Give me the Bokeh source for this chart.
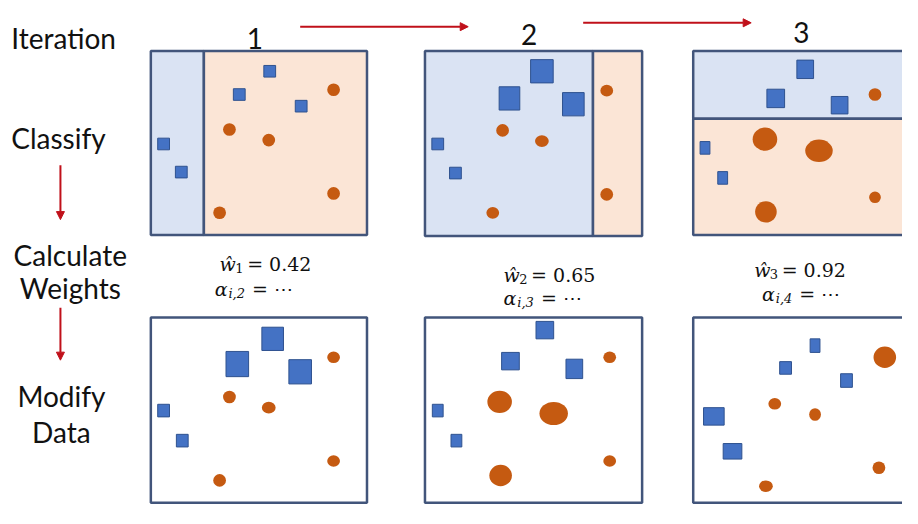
from bokeh.plotting import figure
from bokeh.models import Range1d, Arrow, NormalHead, Label
from bokeh.embed import file_html
from bokeh.resources import INLINE

# ---------------- data ----------------
iterations = ["1", "2", "3"]
row_labels = ["Iteration", "Classify", "Calculate", "Weights", "Modify", "Data"]
weights = ["0.42", "0.65", "0.92"]
w_sub = ["1", "2", "3"]
alpha_sub = ["i,2", "i,3", "i,4"]

# panel frames (pixel space of the diagram)
panel_left = [153, 432, 705]
panel_right = [373, 653, 925]
bottom_row_top = [327, 327, 327]
bottom_row_bottom = [518, 518, 518]

# classifier regions (left, right, top, bottom)
blue_left = [153, 432, 705]
blue_right = [207, 603, 925]
blue_top = [52, 52, 52]
blue_bottom = [242, 243, 122]
orange_left = [207, 603, 705]
orange_right = [373, 653, 925]
orange_top = [52, 52, 122]
orange_bottom = [242, 243, 242]

# Classify row points
c1_sq_x = [274, 243, 306, 166, 184]
c1_sq_y = [73, 97, 109, 148, 177]
c1_sq_w = [12, 12, 12, 12, 12]
c1_sq_h = [12, 12, 12, 12, 12]
c1_ci_x = [339, 233, 273, 339, 223]
c1_ci_y = [92, 133, 144, 199, 219]
c1_ci_w = [13, 13, 13, 13, 13]
c1_ci_h = [13, 13, 13, 13, 13]

c2_sq_x = [551, 518, 583, 445, 463]
c2_sq_y = [73, 101, 107, 148, 178]
c2_sq_w = [23, 21, 22, 12, 12]
c2_sq_h = [24, 24, 24, 12, 12]
c2_ci_x = [617, 511, 551, 617, 501]
c2_ci_y = [93, 134, 145, 200, 219]
c2_ci_w = [13, 13, 14, 13, 13]
c2_ci_h = [12, 13, 12, 13, 12]

c3_sq_x = [819, 789, 854, 717, 735]
c3_sq_y = [71, 101, 108, 152, 183]
c3_sq_w = [17, 18, 17, 10, 10]
c3_sq_h = [19, 19, 18, 13, 13]
c3_ci_x = [890, 778, 833, 890, 779]
c3_ci_y = [97, 143, 155, 203, 218]
c3_ci_w = [13, 25, 28, 12, 22]
c3_ci_h = [13, 24, 23, 12, 22]

# Modify Data row points
m1_sq_x = [277, 241, 305, 166, 185]
m1_sq_y = [349, 375, 383, 423, 454]
m1_sq_w = [22, 23, 23, 12, 12]
m1_sq_h = [24, 26, 25, 13, 13]
m1_ci_x = [339, 233, 273, 339, 223]
m1_ci_y = [368, 409, 420, 475, 495]
m1_ci_w = [13, 13, 14, 13, 13]
m1_ci_h = [12, 13, 12, 12, 13]

m2_sq_x = [554, 519, 584, 445, 464]
m2_sq_y = [340, 372, 380, 423, 454]
m2_sq_w = [18, 18, 17, 11, 11]
m2_sq_h = [18, 18, 20, 13, 13]
m2_ci_x = [620, 508, 563, 620, 509]
m2_ci_y = [368, 414, 426, 475, 490]
m2_ci_w = [13, 25, 29, 13, 23]
m2_ci_h = [12, 23, 24, 12, 22]

m3_sq_x = [829, 799, 861, 726, 745]
m3_sq_y = [356, 379, 392, 429, 465]
m3_sq_w = [10, 12, 12, 21, 19]
m3_sq_h = [14, 13, 14, 18, 16]
m3_ci_x = [900, 788, 829, 894, 779]
m3_ci_y = [368, 416, 427, 482, 501]
m3_ci_w = [23, 13, 12, 13, 14]
m3_ci_h = [22, 12, 13, 13, 12]

# ---------------- styles ----------------
FRAME = "#42557B"
BLUE_BG = "#DAE3F3"
ORANGE_BG = "#FBE5D6"
SQ_FILL = "#4472C4"
SQ_LINE = "#2F528F"
CI_FILL = "#C55A11"
RED = "#C0101A"
SANS = "Lato"
SERIF = "DejaVu Serif"

p = figure(width=902, height=508, x_range=Range1d(0, 918), y_range=Range1d(524, 0),
           output_backend="svg", toolbar_location=None, min_border=0,
           x_axis_location=None, y_axis_location=None)
p.grid.visible = False
p.outline_line_color = None
p.background_fill_color = "white"
p.border_fill_color = "white"

# classify backgrounds
p.quad(left=blue_left, right=blue_right, top=blue_top, bottom=blue_bottom,
       fill_color=BLUE_BG, line_color=FRAME, line_width=2.5)
p.quad(left=orange_left, right=orange_right, top=orange_top, bottom=orange_bottom,
       fill_color=ORANGE_BG, line_color=FRAME, line_width=2.5)
# modify frames
p.quad(left=panel_left, right=panel_right, top=bottom_row_top, bottom=bottom_row_bottom,
       fill_color="white", line_color=FRAME, line_width=2.5)

sets = [
    (c1_sq_x, c1_sq_y, c1_sq_w, c1_sq_h, c1_ci_x, c1_ci_y, c1_ci_w, c1_ci_h),
    (c2_sq_x, c2_sq_y, c2_sq_w, c2_sq_h, c2_ci_x, c2_ci_y, c2_ci_w, c2_ci_h),
    (c3_sq_x, c3_sq_y, c3_sq_w, c3_sq_h, c3_ci_x, c3_ci_y, c3_ci_w, c3_ci_h),
    (m1_sq_x, m1_sq_y, m1_sq_w, m1_sq_h, m1_ci_x, m1_ci_y, m1_ci_w, m1_ci_h),
    (m2_sq_x, m2_sq_y, m2_sq_w, m2_sq_h, m2_ci_x, m2_ci_y, m2_ci_w, m2_ci_h),
    (m3_sq_x, m3_sq_y, m3_sq_w, m3_sq_h, m3_ci_x, m3_ci_y, m3_ci_w, m3_ci_h),
]
for sx, sy, sw, sh, cx, cy, cw, ch in sets:
    p.rect(x=sx, y=sy, width=sw, height=sh, fill_color=SQ_FILL, line_color=SQ_LINE, line_width=1)
    p.ellipse(x=cx, y=cy, width=cw, height=ch, fill_color=CI_FILL, line_color=None)

# ---------------- texts ----------------
def lab(x, y, t, font=SANS, size="28px", style="normal", align="left", color="#111111"):
    p.add_layout(Label(x=x, y=y, text=t, text_font=font, text_font_size=size,
                       text_font_style=style, text_align=align, text_baseline="alphabetic",
                       text_color=color))

lab(11, 39, row_labels[0])
lab(59, 142, row_labels[1], align="center")
lab(71, 262, row_labels[2], align="center")
lab(71, 297, row_labels[3], align="center")
lab(62, 408, row_labels[4], align="center")
lab(62, 445, row_labels[5], align="center")

num_x = [259, 538, 815]
num_y = [39, 35, 33]
for i in range(3):
    lab(num_x[i], num_y[i], iterations[i], align="center")

# math annotations
w_x = [223, 512, 767]
w_bl = [272, 283, 278]
a_x = [218, 512, 775]
a_bl = [298, 307, 303]
for i in range(3):
    lab(w_x[i], w_bl[i], "ŵ", font=SERIF, size="19px", style="italic")
    lab(w_x[i] + 16, w_bl[i] + 4, w_sub[i], font=SERIF, size="13px")
    lab(w_x[i] + 28, w_bl[i], "= " + weights[i], font=SERIF, size="19px")
    lab(a_x[i], a_bl[i], "α", font=SERIF, size="19px", style="italic")
    lab(a_x[i] + 14, a_bl[i] + 4, alpha_sub[i], font=SERIF, size="13px", style="italic")
    lab(a_x[i] + 38, a_bl[i], "= ⋯", font=SERIF, size="19px")

# ---------------- arrows ----------------
def arrow(x0, y0, x1, y1):
    p.add_layout(Arrow(x_start=x0, y_start=y0, x_end=x1, y_end=y1,
                       line_color=RED, line_width=2,
                       end=NormalHead(size=8, fill_color=RED, line_color=RED)))

arrow(305, 27, 476, 27)
arrow(593, 23, 764, 23)
arrow(61, 170, 61, 226)
arrow(61, 317, 61, 371)

open("out.html", "w").write(file_html(p, INLINE))
